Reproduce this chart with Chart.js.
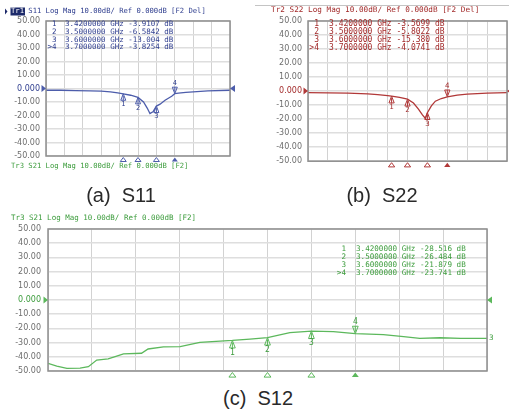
<!DOCTYPE html>
<html>
<head>
<meta charset="utf-8">
<script src="https://cdn.jsdelivr.net/npm/chart.js@4/dist/chart.umd.min.js"></script>
<style>
  body { margin: 0; background: #fff; width: 509px; height: 411px; position: relative; overflow: hidden; }
  canvas { position: absolute; }
  .cap { position: absolute; font-family: "Liberation Sans", Arial, sans-serif; font-size: 20px; line-height: 20px;
         color: #2a2a2a; white-space: pre; transform: translateX(-50%); }
</style>
</head>
<body>
<canvas id="cS11" width="250" height="172" style="left:0;top:0"></canvas>
<canvas id="cS22" width="254" height="172" style="left:255px;top:0"></canvas>
<canvas id="cS21" width="509" height="185" style="left:0;top:200px"></canvas>
<div class="cap" style="left:121px;top:185px">(a)  S11</div>
<div class="cap" style="left:382px;top:185px">(b)  S22</div>
<div class="cap" style="left:258px;top:388px">(c)  S12</div>
<script>
// ============================
// Data
// ============================
const FREQ_START = 3.0;   // GHz
const FREQ_STOP = 4.0;
const FREQ_STEP = 0.1;

const Y_TICK_VALUES = [50, 40, 30, 20, 10, 0, -10, -20, -30, -40, -50];
const Y_TICK_LABELS = ["50.00", "40.00", "30.00", "20.00", "10.00", "0.000", "-10.00", "-20.00", "-30.00", "-40.00", "-50.00"];

const MARKER_IDS = ["1", "2", "3", ">4"];
const MARKER_FREQ = [3.42, 3.50, 3.60, 3.70];

// S11
const S11_FREQ = [3.00, 3.08, 3.16, 3.24, 3.30, 3.35, 3.39, 3.42, 3.46, 3.50, 3.53, 3.55, 3.565, 3.583, 3.60, 3.62, 3.647, 3.683, 3.70, 3.72, 3.76, 3.80, 3.88, 4.00];
const S11_DB = [-1.3, -1.3, -1.5, -1.7, -2.0, -2.5, -3.2, -3.9, -5.0, -6.6, -10.0, -14.5, -18.5, -17.0, -13.0, -11.6, -8.7, -5.7, -3.8, -3.4, -2.9, -2.5, -1.8, -1.3];
const S11_MARKER_DB = [-3.9107, -6.5842, -13.004, -3.8254];

// S22
const S22_FREQ = [3.00, 3.10, 3.20, 3.30, 3.35, 3.40, 3.42, 3.46, 3.50, 3.53, 3.555, 3.575, 3.59, 3.60, 3.62, 3.64, 3.67, 3.70, 3.75, 3.80, 3.90, 4.00];
const S22_DB = [-1.1, -1.3, -1.5, -2.0, -2.5, -3.2, -3.57, -4.5, -5.8, -8.5, -12.8, -17.0, -19.5, -15.4, -10.5, -7.2, -5.3, -4.07, -2.8, -2.1, -1.5, -1.1];
const S22_MARKER_DB = [-3.5699, -5.8022, -15.380, -4.0741];

// S21 (shown as S12)
const S21_FREQ = [3.000, 3.020, 3.043, 3.073, 3.092, 3.111, 3.137, 3.153, 3.172, 3.213, 3.228, 3.263, 3.301, 3.346, 3.392, 3.420, 3.460, 3.500, 3.551, 3.600, 3.650, 3.700, 3.764, 3.810, 3.847, 3.893, 3.940, 4.000];
const S21_DB = [-44.6, -46.5, -48.1, -48.0, -47.0, -42.3, -41.5, -39.9, -38.0, -37.5, -34.5, -33.0, -32.8, -29.8, -28.9, -28.5, -27.5, -26.5, -23.0, -21.9, -22.3, -23.7, -24.4, -25.8, -27.0, -26.6, -27.0, -27.0];
const S21_MARKER_DB = [-28.516, -26.484, -21.879, -23.741];

// ============================
// Helpers
// ============================
const MONO = '"DejaVu Sans Mono", monospace';

function toPoints(fs, vs) {
    return fs.map((f, i) => ({ x: f, y: vs[i] }));
}

function tri(ctx, x, tipY, dir, w, h, fill) {
    ctx.beginPath();
    ctx.moveTo(x, tipY);
    ctx.lineTo(x - w / 2, tipY + dir * h);
    ctx.lineTo(x + w / 2, tipY + dir * h);
    ctx.closePath();
    if (fill) ctx.fill(); else ctx.stroke();
}

// decorations drawn like the analyzer screen: frame, title, marker table, markers
function vnaDecor(p) {
    return {
        id: "vnaDecor",
        afterDraw(chart) {
            const { ctx, chartArea: a, scales } = chart;
            const xs = scales.x, ys = scales.y;
            ctx.save();

            // frame
            ctx.strokeStyle = "#8e8e8e";
            ctx.lineWidth = 1.5;
            ctx.strokeRect(a.left, a.top, a.right - a.left, a.bottom - a.top);

            if (p.topRule) {
                ctx.strokeStyle = "#c4c4c4";
                ctx.lineWidth = 1;
                ctx.beginPath(); ctx.moveTo(0, 5.5); ctx.lineTo(chart.width, 5.5); ctx.stroke();
            }

            // title
            ctx.textBaseline = "middle";
            ctx.textAlign = "left";
            ctx.font = p.titleSize + "px " + MONO;
            const tx = p.titleX, ty = p.titleY;
            if (p.highlight) {
                const w = ctx.measureText("Tr1").width;
                ctx.fillStyle = "#1d2a6a";
                ctx.beginPath(); ctx.moveTo(5, ty - 3); ctx.lineTo(7.5, ty); ctx.lineTo(5, ty + 3); ctx.fill();
                ctx.fillRect(tx - 0.5, ty - 4, w + 1.5, 8);
                ctx.fillStyle = "#ffffff";
                ctx.fillText("Tr1", tx, ty);
                ctx.fillStyle = p.text;
                ctx.fillText(p.title.slice(3), tx + w, ty);
            } else {
                ctx.fillStyle = p.text;
                ctx.fillText(p.title, tx, ty);
            }
            if (p.sub) {
                ctx.fillStyle = p.sub.color;
                ctx.fillText(p.sub.text, p.sub.x, p.sub.y);
            }

            // marker table
            ctx.font = p.tableSize + "px " + MONO;
            ctx.fillStyle = p.text;
            for (let i = 0; i < MARKER_IDS.length; i++) {
                const yy = p.tableY + i * p.tableDy;
                ctx.textAlign = "right";
                ctx.fillText(MARKER_IDS[i], p.tableNumX, yy);
                ctx.textAlign = "left";
                ctx.fillText(MARKER_FREQ[i].toFixed(7) + " GHz " + p.markerDb[i].toPrecision(5) + " dB", p.tableX, yy);
            }

            // reference level arrows
            const y0 = ys.getPixelForValue(0);
            ctx.fillStyle = p.color;
            ctx.beginPath(); ctx.moveTo(a.left - 4.5, y0 - 3.5); ctx.lineTo(a.left, y0); ctx.lineTo(a.left - 4.5, y0 + 3.5); ctx.fill();
            ctx.beginPath(); ctx.moveTo(a.right + 5, y0 - 3.5); ctx.lineTo(a.right, y0); ctx.lineTo(a.right + 5, y0 + 3.5); ctx.fill();

            // trace markers
            const s = p.mScale;
            ctx.strokeStyle = p.color;
            ctx.lineWidth = 1;
            ctx.font = (7 * s).toFixed(1) + "px " + MONO;
            ctx.textAlign = "center";
            for (let i = 0; i < MARKER_FREQ.length; i++) {
                const mx = xs.getPixelForValue(MARKER_FREQ[i]);
                const my = ys.getPixelForValue(p.markerDb[i]);
                const h = 6.5 * s, w = 5 * s;
                const active = i === MARKER_FREQ.length - 1;
                const dir = active ? -1 : 1;
                tri(ctx, mx, my, dir, w, h, false);
                ctx.beginPath(); ctx.moveTo(mx, my + dir * 2); ctx.lineTo(mx, my + dir * h); ctx.stroke();
                ctx.fillStyle = p.text;
                ctx.fillText(String(i + 1), mx, my + dir * (h + 4 * s));

                // stimulus markers under the grid
                ctx.fillStyle = p.color;
                tri(ctx, mx, a.bottom + 1.5, 1, 6 * s, 4 * s, active);
            }

            if (p.rightLabel) {
                const ye = ys.getPixelForValue(p.rightLabel.db);
                ctx.textAlign = "left";
                ctx.font = "7.5px " + MONO;
                ctx.fillStyle = p.text;
                ctx.fillText("3", a.right + 2, ye);
            }
            ctx.restore();
        }
    };
}

function makeChart(id, freq, db, p) {
    const cv = document.getElementById(id);
    return new Chart(cv.getContext("2d"), {
        type: "line",
        data: {
            datasets: [{
                data: toPoints(freq, db),
                borderColor: p.color,
                borderWidth: 1.3,
                pointRadius: 0,
                tension: 0
            }]
        },
        options: {
            responsive: false,
            animation: false,
            events: [],
            layout: { padding: p.pad },
            plugins: { legend: { display: false }, tooltip: { enabled: false } },
            scales: {
                x: {
                    type: "linear",
                    min: FREQ_START, max: FREQ_STOP,
                    ticks: { display: false, stepSize: FREQ_STEP },
                    grid: { color: "#d2d2d2", lineWidth: 1, drawTicks: false },
                    border: { display: false },
                    afterFit(sc) { sc.height = 0; }
                },
                y: {
                    min: -50, max: 50,
                    ticks: {
                        stepSize: 10,
                        padding: p.tickPad,
                        font: { family: "DejaVu Sans", size: 8 },
                        color: (c) => (c.tick && c.tick.value === 0) ? p.text : "#6e6e6e",
                        callback: (v) => {
                            const i = Y_TICK_VALUES.indexOf(v);
                            return i >= 0 ? Y_TICK_LABELS[i] : "";
                        }
                    },
                    grid: { color: "#dedede", lineWidth: 1.6, drawTicks: false },
                    border: { display: false },
                    afterFit(sc) { sc.width = p.yWidth; }
                }
            }
        },
        plugins: [vnaDecor(p)]
    });
}

// ============================
// Panels
// ============================
makeChart("cS11", S11_FREQ, S11_DB, {
    color: "#4d5dab", text: "#2e3d8e",
    title: "Tr1 S11 Log Mag 10.00dB/ Ref 0.000dB [F2 Del]", titleX: 11, titleY: 11.5, titleSize: 7.2, highlight: true,
    sub: { text: "Tr3 S21 Log Mag 10.00dB/ Ref 0.000dB [F2]", x: 11, y: 166, color: "#3c9c3c" },
    tableNumX: 56.5, tableX: 65, tableY: 24.5, tableDy: 7.65, tableSize: 7.5,
    markerDb: S11_MARKER_DB, mScale: 1,
    pad: { left: 0, top: 21, right: 20, bottom: 16 }, yWidth: 46, tickPad: 6
});

makeChart("cS22", S22_FREQ, S22_DB, {
    color: "#b13838", text: "#a32b2b",
    title: "Tr2 S22 Log Mag 10.00dB/ Ref 0.000dB [F2 Del]", titleX: 16, titleY: 10.5, titleSize: 7.7, highlight: false, topRule: true,
    tableNumX: 64, tableX: 74, tableY: 24.4, tableDy: 7.9, tableSize: 8,
    markerDb: S22_MARKER_DB, mScale: 1.05,
    pad: { left: 0, top: 21, right: 2, bottom: 6 }, yWidth: 53, tickPad: 6
});

makeChart("cS21", S21_FREQ, S21_DB, {
    color: "#5cb85c", text: "#3c9c3c",
    title: "Tr3 S21 Log Mag 10.00dB/ Ref 0.000dB [F2]", titleX: 11, titleY: 18.5, titleSize: 7.5, highlight: false,
    tableNumX: 346, tableX: 356, tableY: 49, tableDy: 7.9, tableSize: 7.6,
    markerDb: S21_MARKER_DB, mScale: 1.15,
    rightLabel: { db: S21_DB[S21_DB.length - 1] },
    pad: { left: 0, top: 29, right: 22, bottom: 14 }, yWidth: 48, tickPad: 7
});
</script>
</body>
</html>
